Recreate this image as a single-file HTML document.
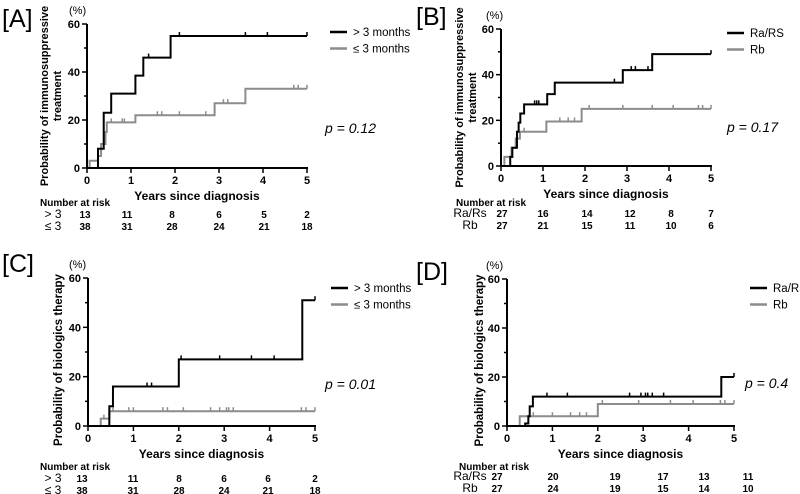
<!DOCTYPE html>
<html><head><meta charset="utf-8">
<style>
html,body{margin:0;padding:0;background:#fff;}
svg{display:block;font-family:"Liberation Sans",sans-serif;}
.b{font-weight:bold;}
</style></head>
<body>
<svg id="fig" width="800" height="494" viewBox="0 0 800 494"></svg>
<script>
const NS="http://www.w3.org/2000/svg";
const svg=document.getElementById('fig');
const yTicks=[0,20,40,60];
const xTicks=[0,1,2,3,4,5];

// Panel A
const aBlackT=[0.25,0.38,0.55,1.1,1.28,1.9];
const aBlackV=[8,23,31,38.5,46,55];
const aBlackC=[1.4,2.1,3.6,4.1,5];
const aGrayT=[0.06,0.25,0.32,0.42,0.45,1.1,2.9,3.6];
const aGrayV=[3,5,10,15,19,22,27,33];
const aGrayC=[0.55,0.8,0.85,1.6,1.7,2.1,2.7,3.1,3.2,4.7,4.8,5];
const aRisk1=["13","11","8","6","5","2"];
const aRisk2=["38","31","28","24","21","18"];
// Panel B
const bBlackT=[0.22,0.27,0.38,0.42,0.46,0.55,1.1,1.28,2.9,3.6];
const bBlackV=[4,8,15,19,23,27,31.5,36.5,42,49];
const bBlackC=[0.8,0.85,0.9,2.7,3.1,3.2,3.5,5];
const bGrayT=[0.08,0.25,0.35,0.45,1.08,1.92];
const bGrayV=[4,8,12,15,19.5,25];
const bGrayC=[0.55,1.4,1.6,1.75,2.1,2.9,3.6,4.1,4.7,4.8,5];
const bRisk1=["27","16","14","12","8","7"];
const bRisk2=["27","21","15","11","10","6"];
// Panel C
const cBlackT=[0.47,0.55,2.0,4.72];
const cBlackV=[8,16,27,51];
const cBlackC=[1.3,1.4,2.05,2.9,3.6,4.1,5];
const cGrayT=[0.28,0.47];
const cGrayV=[3,6];
const cGrayC=[0.35,0.55,0.9,1.0,1.65,1.75,2.1,2.7,2.9,3.05,3.1,3.2,4.7,4.8,5];
const cRisk1=["13","11","8","6","6","2"];
const cRisk2=["38","31","28","24","21","18"];
// Panel D
const dBlackT=[0.4,0.47,0.5,0.57,4.72];
const dBlackV=[1,4,8,12,20];
const dBlackC=[0.88,1.33,2.7,2.95,3.05,3.1,3.2,3.45,5];
const dGrayT=[0.28,2.0];
const dGrayV=[4,9];
const dGrayC=[0.58,1.0,1.4,1.6,1.75,2.1,2.9,3.6,4.1,4.7,4.8,5];
const dRisk1=["27","20","19","17","13","11"];
const dRisk2=["27","24","19","15","14","10"];

function el(tag,attrs,parent,text){const e=document.createElementNS(NS,tag);for(const k in attrs)e.setAttribute(k,attrs[k]);if(text!==undefined)e.textContent=text;(parent||svg).appendChild(e);return e;}

const panels=[
 {id:'a',label:'[A]',lx:2,ly:27,x0:87,x1:307,y0:168,y1:24,yt:'Probability of  immunosuppressive',yt2:'treatment',ytx:48,leg:['> 3 months','≤ 3 months'],legx:330,legy:32,p:'p = 0.12',px:325,py:133,
  bt:aBlackT,bv:aBlackV,bc:aBlackC,gt:aGrayT,gv:aGrayV,gc:aGrayC,r1:aRisk1,r2:aRisk2,rl:['> 3','≤ 3'],rlx:53,rx:[85,127,172,219,264,307],nar:[40,206],ry:[218,230],pctx:69},
 {id:'b',label:'[B]',lx:416,ly:25,x0:501,x1:711,y0:166,y1:29,yt:'Probability of immunosuppressive',yt2:'treatment',ytx:463,leg:['Ra/RS','Rb'],legx:727,legy:33,p:'p = 0.17',px:727,py:132,
  bt:bBlackT,bv:bBlackV,bc:bBlackC,gt:bGrayT,gv:bGrayV,gc:bGrayC,r1:bRisk1,r2:bRisk2,rl:['Ra/Rs','Rb'],rlx:470,rx:[502,543,587,630,671,711],nar:[456,206],ry:[217,229],pctx:486},
 {id:'c',label:'[C]',lx:2,ly:272,x0:88,x1:315,y0:426,y1:278,yt:'Probability of biologics therapy',ytx:62,leg:['> 3 months','≤ 3 months'],legx:331,legy:288,p:'p = 0.01',px:325,py:389,
  bt:cBlackT,bv:cBlackV,bc:cBlackC,gt:cGrayT,gv:cGrayV,gc:cGrayC,r1:cRisk1,r2:cRisk2,rl:['> 3','≤ 3'],rlx:53,rx:[82,133,179,224,268,315],nar:[40,470],ry:[482,494],pctx:69},
 {id:'d',label:'[D]',lx:416,ly:280,x0:507,x1:734,y0:426,y1:279,yt:'Probability of biologics therapy',ytx:483,leg:['Ra/RS','Rb'],legx:750,legy:288,p:'p = 0.4',px:745,py:388,
  bt:dBlackT,bv:dBlackV,bc:dBlackC,gt:dGrayT,gv:dGrayV,gc:dGrayC,r1:dRisk1,r2:dRisk2,rl:['Ra/Rs','Rb'],rlx:470,rx:[497,553,615,663,704,748],nar:[459,470],ry:[480,492],pctx:486}
];

panels.forEach(P=>{
 const g=el('g',{});
 
 
 const X=t=>P.x0+(P.x1-P.x0)*t/5;
 const Y=v=>P.y0+(P.y1-P.y0)*v/60;
 const lab=el('text',{x:P.lx,y:P.ly,'font-size':25},g,P.label);
 
 
 const pc=el('text',{x:P.pctx,y:P.y1-10,'font-size':11},g,'(%)');
 
 
 el('line',{x1:P.x0,y1:P.y1,x2:P.x0,y2:P.y0+1,stroke:'#000','stroke-width':2},g);
 el('line',{x1:P.x0-1,y1:P.y0,x2:P.x1+1,y2:P.y0,stroke:'#000','stroke-width':2},g);
 for(let v=0;v<=60;v+=10){el('line',{x1:P.x0-(v%20?3:5),y1:Y(v),x2:P.x0,y2:Y(v),stroke:'#000','stroke-width':1.5},g);}
 yTicks.forEach(v=>{const t=el('text',{x:P.x0-7,y:Y(v)+4,'font-size':11,'text-anchor':'end',class:'b'},g,v);});
 xTicks.forEach(v=>{el('line',{x1:X(v),y1:P.y0,x2:X(v),y2:P.y0+5,stroke:'#000','stroke-width':1.5},g);const t=el('text',{x:X(v),y:P.y0+16,'font-size':11,'text-anchor':'middle',class:'b'},g,v);});
 const xt=el('text',{x:(P.x0+P.x1)/2,y:P.y0+32,'font-size':12,'text-anchor':'middle',class:'b'},g,'Years since diagnosis');
 
 
 const cy=(P.y0+P.y1)/2;
 if(P.yt2){
  const a=el('text',{x:P.ytx,y:cy,'font-size':11,'text-anchor':'middle',class:'b',transform:`rotate(-90 ${P.ytx} ${cy})`},g,P.yt);
  
  const b=el('text',{x:P.ytx+13,y:cy,'font-size':11,'text-anchor':'middle',class:'b',transform:`rotate(-90 ${P.ytx+13} ${cy})`},g,P.yt2);
  
 } else {
  const a=el('text',{x:P.ytx,y:cy+8,'font-size':11.5,'text-anchor':'middle',class:'b',transform:`rotate(-90 ${P.ytx} ${cy+8})`},g,P.yt);
  
 }
 function curve(T,V,C,color,name){
  let d=`M${X(0)},${Y(0)}`;
  for(let i=0;i<T.length;i++){d+=` H${X(T[i])} V${Y(V[i])}`;}
  d+=` H${X(5)}`;
  const p=el('path',{d:d,fill:'none',stroke:color,'stroke-width':2},g);
  
  
  C.forEach(c=>{let v=0;for(let i=0;i<T.length;i++)if(T[i]<=c)v=V[i];
   const m=el('line',{x1:X(c),y1:Y(v),x2:X(c),y2:Y(v)-4,stroke:color,'stroke-width':1.5},g);
   
   });
 }
 curve(P.gt,P.gv,P.gc,'#8c8c8c','gray-curve');
 curve(P.bt,P.bv,P.bc,'#000','black-curve');
 [['#000',P.leg[0]],['#8c8c8c',P.leg[1]]].forEach((e,i)=>{
  const yy=P.legy+i*16.5;
  el('line',{x1:P.legx,y1:yy,x2:P.legx+17,y2:yy,stroke:e[0],'stroke-width':2.5},g);
  const t=el('text',{x:P.legx+23,y:yy+4,'font-size':11.5},g,e[1]);
  
 });
 const pv=el('text',{x:P.px,y:P.py,'font-size':14,'font-style':'italic'},g,P.p);
 
 
 const nt=el('text',{x:P.nar[0],y:P.nar[1],'font-size':10,class:'b'},g,'Number at risk');
 
 
 [P.r1,P.r2].forEach((row,ri)=>{
  const rl=el('text',{x:P.rlx,y:P.ry[ri],'font-size':12,'text-anchor':'middle'},g,P.rl[ri]);
  
  row.forEach((n,i)=>{const t=el('text',{x:P.rx[i],y:P.ry[ri],'font-size':10,'text-anchor':'middle',class:'b'},g,n);
   });
 });
});
</script>
</body></html>
